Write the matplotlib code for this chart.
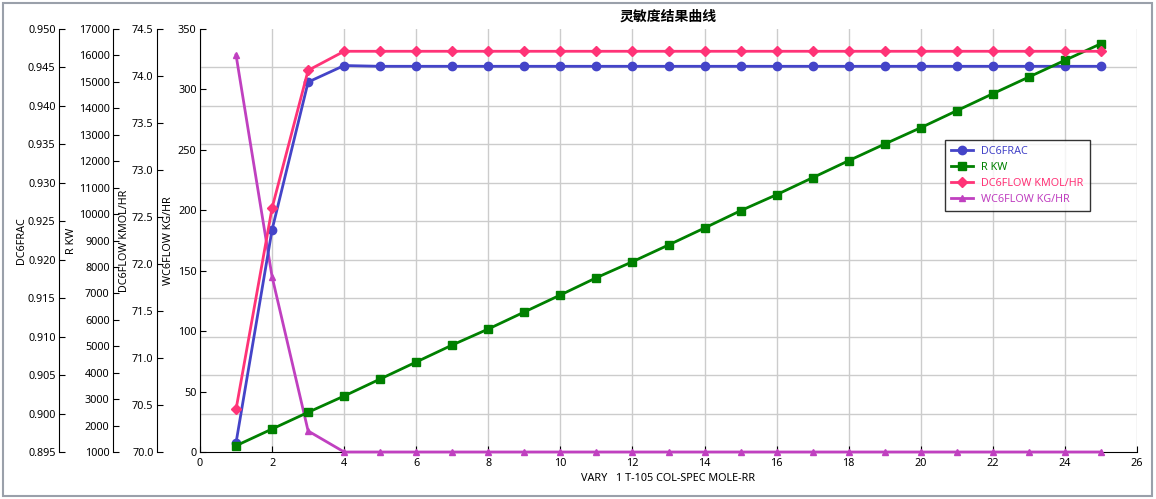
import numpy as np
import matplotlib
matplotlib.use("Agg")
import matplotlib.pyplot as plt
from matplotlib.ticker import FixedLocator, MultipleLocator
from matplotlib.patches import Rectangle

plt.rcParams['font.family'] = ['Noto Sans', 'Noto Sans CJK SC', 'DejaVu Sans']

# data
vary = list(range(1, 26))
dc6frac = [0.8962, 0.9239, 0.9431, 0.94525] + [0.94515] * 21
r_kw = [1238, 1870, 2502, 3118, 3761, 4404, 5047, 5653, 6296, 6939,
        7593, 8198, 8830, 9473, 10127, 10733, 11376, 12019, 12650, 13267,
        13910, 14553, 15184, 15816, 16444]
dc6flow = [70.454, 72.596, 74.06] + [74.263] * 22
wc6flow = [328.5, 145.0, 17.4] + [0.0] * 22

title = "灵敏度结果曲线"
xlabel = "VARY   1 T-105 COL-SPEC MOLE-RR"

W, H = 1156, 499
fig = plt.figure(figsize=(W / 100, H / 100), dpi=100)
left, right, top, bottom = 200, 1137, 29, 452
ax = fig.add_axes([left / W, 1 - bottom / H, (right - left) / W, (bottom - top) / H])
aw = right - left

c_blue = "#4444c8"
c_green = "#008000"
c_pink = "#ff3377"
c_mag = "#c040c0"
fs = 7.8
tpad = 2.5

# main axis: WC6FLOW
ax.set_xlim(0, 26)
ax.set_ylim(0, 350)
ax.xaxis.set_major_locator(MultipleLocator(2))
ax.yaxis.set_major_locator(MultipleLocator(50))
# horizontal grid follows the DC6FRAC ticks
ax.yaxis.set_minor_locator(FixedLocator(np.linspace(0, 350, 12)))
ax.grid(which='major', axis='x', color='#cccccc', lw=1)
ax.grid(which='minor', axis='y', color='#cccccc', lw=1)
ax.tick_params(axis='y', which='minor', length=0)
ax.tick_params(axis='x', direction='in', length=4, labelsize=fs, pad=4)
ax.tick_params(axis='y', which='major', direction='in', length=4, labelsize=fs, pad=tpad)
for s in ('top', 'right'):
    ax.spines[s].set_visible(False)
ax.set_ylabel("WC6FLOW KG/HR", fontsize=fs)
ax.yaxis.set_label_coords((174 - left) / aw, 0.5)
ax.set_xlabel(xlabel, fontsize=fs, labelpad=3)
ax.set_title(title, fontsize=10, fontweight='bold', family=['Noto Sans CJK SC'], pad=6)


def make_axis(pos_px, lo, hi, step, label, fmt, label_px):
    a = ax.twinx()
    a.spines['right'].set_visible(False)
    a.spines['top'].set_visible(False)
    a.spines['bottom'].set_visible(False)
    a.spines['left'].set_visible(True)
    a.spines['left'].set_position(('axes', (pos_px - left) / aw))
    a.yaxis.set_label_position('left')
    a.yaxis.set_ticks_position('left')
    a.set_ylim(lo, hi)
    a.set_yticks(np.arange(lo, hi + step / 2, step))
    a.set_yticklabels([fmt.format(v) for v in np.arange(lo, hi + step / 2, step)])
    a.tick_params(axis='y', direction='in', length=4, labelsize=fs, pad=tpad)
    a.set_ylabel(label, fontsize=fs)
    a.yaxis.set_label_coords((label_px - left) / aw, 0.5)
    return a


ax_frac = make_axis(59, 0.895, 0.950, 0.005, "DC6FRAC", "{:.3f}", 27)
ax_rkw = make_axis(113, 1000, 17000, 1000, "R KW", "{:.0f}", 77)
ax_flow = make_axis(157, 70.0, 74.5, 0.5, "DC6FLOW KMOL/HR", "{:.1f}", 130)

lw = 2.0
h1, = ax_frac.plot(vary, dc6frac, color=c_blue, lw=lw, marker='o', ms=6, label="DC6FRAC")
h2, = ax_rkw.plot(vary, r_kw, color=c_green, lw=lw, marker='s', ms=6, label="R KW")
h3, = ax_flow.plot(vary, dc6flow, color=c_pink, lw=lw, marker='D', ms=5, label="DC6FLOW KMOL/HR")
h4, = ax_flow.plot([], [], color=c_mag, lw=lw, marker='^', ms=5, label="WC6FLOW KG/HR")
ax.plot(vary, wc6flow, color=c_mag, lw=lw, marker='^', ms=5, clip_on=False, zorder=3)

leg = ax_flow.legend(handles=[h1, h2, h3, h4], loc='upper left',
                     bbox_to_anchor=(945 / W, 1 - 140 / H), bbox_transform=fig.transFigure,
                     fontsize=fs, frameon=True, fancybox=False, edgecolor='black',
                     handlelength=2.0, borderpad=0.55, labelspacing=0.45, handletextpad=0.8,
                     borderaxespad=0)
leg.get_frame().set_linewidth(1.0)
for t, c in zip(leg.get_texts(), [c_blue, c_green, c_pink, c_mag]):
    t.set_color(c)

fig.patches.append(Rectangle((3 / W, 3 / H), 1 - 7 / W, 1 - 6 / H, transform=fig.transFigure,
                             fill=False, edgecolor='#9aa0aa', lw=1.5))

fig.savefig("out.png", dpi=100)
